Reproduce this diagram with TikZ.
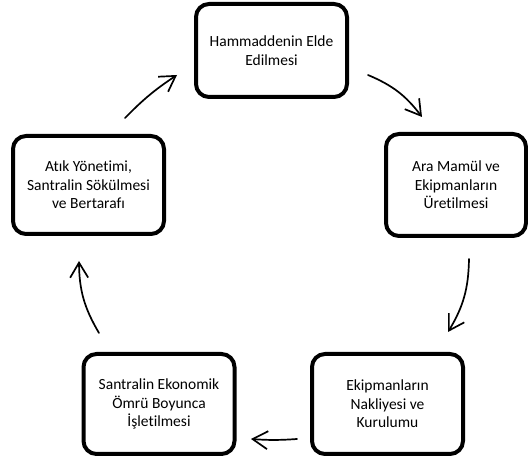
\documentclass[tikz,border=0pt]{standalone}
\usepackage{fontspec}
\setmainfont{Carlito}[Ligatures=CommonOff]
\usetikzlibrary{arrows.meta}
\begin{document}
\begin{tikzpicture}[x=1pt, y=1pt, line join=round, line cap=round,
	stage/.style={draw, line width=4pt, rounded corners=13pt, align=center, inner sep=0pt, font=\fontsize{15.5}{18.5}\selectfont},
	flow/.style={-{Straight Barb[length=15pt,width=18pt]}, line width=1.7pt}]
	\useasboundingbox (0,0) rectangle (528,461);
	\node[stage, minimum width=151pt, minimum height=93pt] (ham) at (271.5,410.5) {Hammaddenin Elde\\Edilmesi};
	\node[stage, minimum width=140pt, minimum height=102pt] (ara) at (456,276) {Ara Mamül ve\\Ekipmanların\\Üretilmesi};
	\node[stage, minimum width=151pt, minimum height=100pt] (nakl) at (387.5,57) {Ekipmanların\\Nakliyesi ve\\Kurulumu};
	\node[stage, minimum width=151pt, minimum height=100pt] (islet) at (159,57) {Santralin Ekonomik\\Ömrü Boyunca\\İşletilmesi};
	\node[stage, minimum width=151pt, minimum height=98pt] (atik) at (88.5,276) {Atık Yönetimi,\\Santralin Sökülmesi\\ve Bertarafı};
	\coordinate (ham-out) at (368,386); \coordinate (ara-in) at (422,344);
	\coordinate (ara-out) at (469,202); \coordinate (nakl-in) at (448,129);
	\coordinate (nakl-out) at (297,22); \coordinate (islet-in) at (251,22);
	\coordinate (islet-out) at (99,128); \coordinate (atik-in) at (79,200);
	\coordinate (atik-out) at (125,343); \coordinate (ham-in) at (177,386);
	\draw[flow] (ham-out) to[bend left=15] (ara-in);
	\draw[flow] (ara-out) to[bend left=15] (nakl-in);
	\draw[flow] (nakl-out) to[bend left=4] (islet-in);
	\draw[flow] (islet-out) to[bend left=15] (atik-in);
	\draw[flow] (atik-out) to[bend left=6] (ham-in);
\end{tikzpicture}
\end{document}
